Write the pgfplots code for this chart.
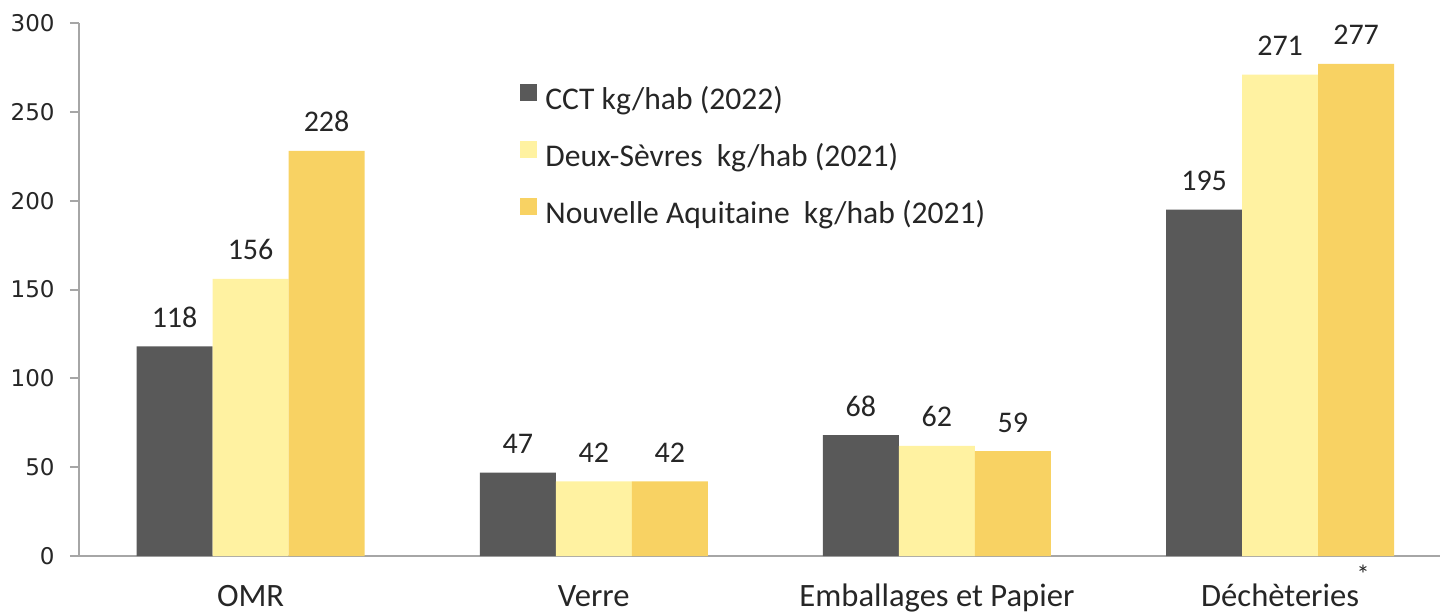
\documentclass[border=0pt]{standalone}
\usepackage{pgfplots}
\pgfplotsset{compat=1.18}
\usepackage{fontspec}
\setmainfont{Carlito}
\newfontfamily\tickfont{DejaVu Sans}
\definecolor{cct}{HTML}{595959}
\definecolor{deuxsevres}{HTML}{FFF2A1}
\definecolor{aquitaine}{HTML}{F8D263}
\definecolor{axisgrey}{HTML}{A6A6A6}
\definecolor{txt}{HTML}{262626}

\begin{document}
\begin{tikzpicture}
\path[use as bounding box] (-39.5pt,-28pt) rectangle (683pt,278pt);
\begin{axis}[
    at={(0,0)}, anchor=south west,
    scale only axis,
    width=680.5pt, height=266.5pt,
    ybar=0pt, bar width=38pt,
    xmin=-0.5, xmax=3.466,
    ymin=0, ymax=300,
    xtick=data,
    xticklabels={OMR, Verre, Emballages et Papier, Déchèteries},
    ytick={0,50,...,300},
    axis x line*=bottom, axis y line*=left,
    axis line style={axisgrey, line width=1pt, -},
    x axis line style={-},
    y axis line style={-},
    tick align=outside,
    major tick length=4.5pt,
    xtick style={draw=none},
    ytick style={axisgrey, line width=1pt},
    /pgf/number format/assume math mode=true,
    yticklabel={\tickfont\pgfmathprintnumber[assume math mode=true]{\tick}},
    yticklabel style={font=\tickfont\fontsize{11.5}{13}\selectfont, text=txt, inner sep=0pt, xshift=-7.5pt},
    xticklabel style={font=\fontsize{16.3}{19}\selectfont, text=txt, inner sep=0pt, anchor=north, text height=10.5pt, yshift=-10pt},
    nodes near coords,
    nodes near coords style={font=\fontsize{15}{18}\selectfont, text=txt, anchor=base, yshift=9.5pt, inner sep=0pt},
    legend style={at={(0.324,0.8856)}, anchor=north west, draw=none, fill=none,
        inner sep=0pt, column sep=4pt, row sep=12pt,
        font=\fontsize{15.8}{19}\selectfont, text=txt,
        nodes={inner sep=0pt, text height=12pt, text depth=4pt}},
    legend cell align=left,
    legend image code/.code={\fill[#1] (0pt,0pt) rectangle (8.5pt,8.5pt);},
    clip=false,
]
\addplot[draw=none, fill=cct] coordinates {(0,118) (1,47) (2,68) (3,195)};
\addplot[draw=none, fill=deuxsevres] coordinates {(0,156) (1,42) (2,62) (3,271)};
\addplot[draw=none, fill=aquitaine] coordinates {(0,228) (1,42) (2,59) (3,277)};
\legend{CCT kg/hab (2022), Deux-Sèvres\ \ kg/hab (2021), Nouvelle Aquitaine\ \ kg/hab (2021)}
\node[font=\fontsize{13}{14}\selectfont, text=txt, inner sep=0pt] at (axis cs:3.242,0) [yshift=-9pt] {*};
\end{axis}
\end{tikzpicture}
\end{document}
